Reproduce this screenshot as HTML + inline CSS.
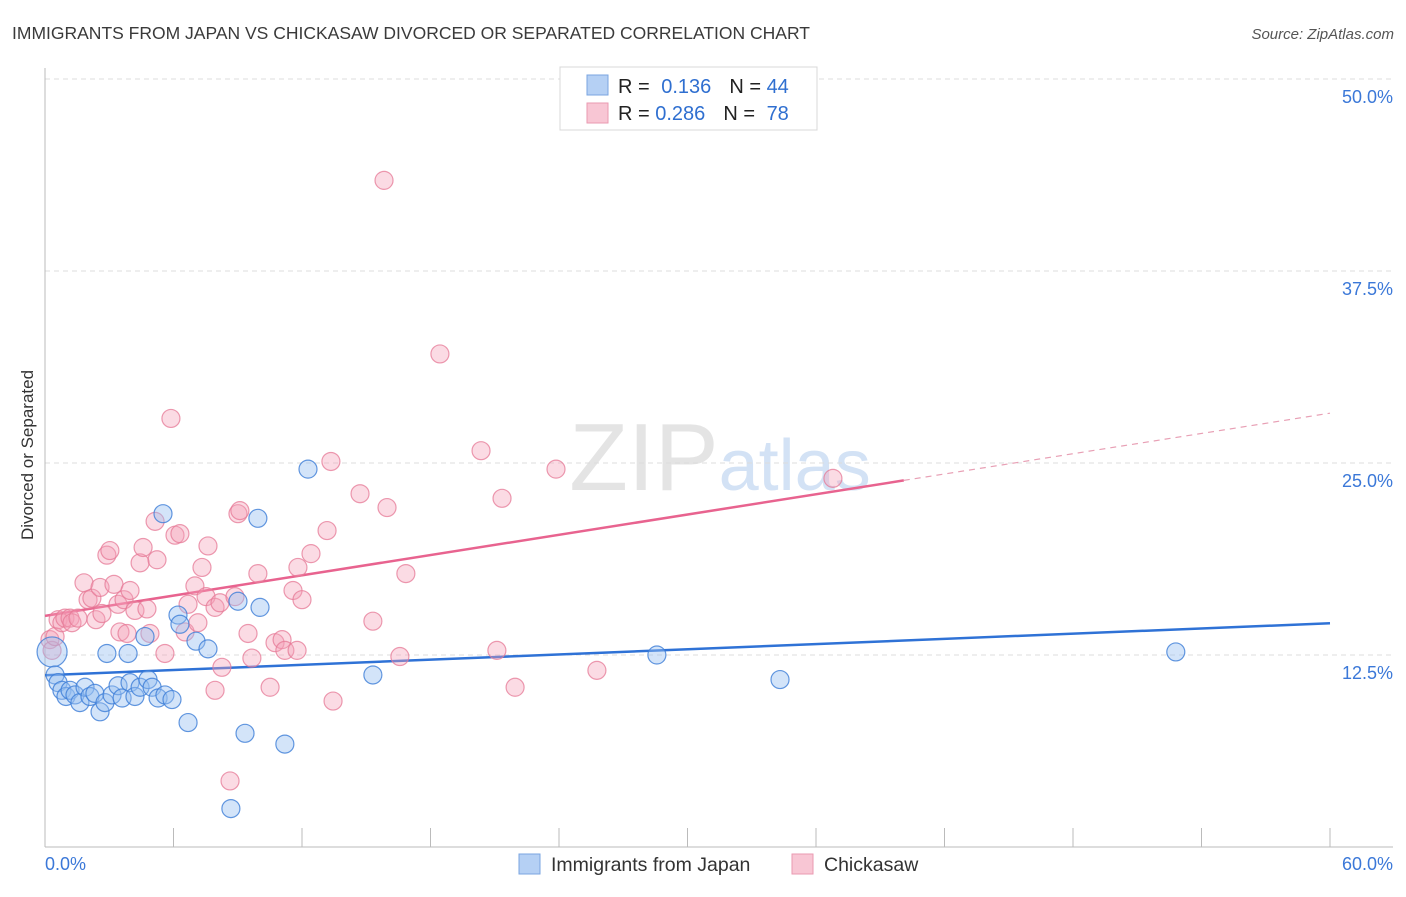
<!DOCTYPE html>
<html><head><meta charset="utf-8"><style>
body{margin:0;background:#fff;font-family:"Liberation Sans",sans-serif;}
svg text{font-family:"Liberation Sans",sans-serif;}
</style></head><body>
<svg id="chart" width="1406" height="892" xmlns="http://www.w3.org/2000/svg">
<text x="12" y="39" font-size="17.5" fill="#3a3a3a">IMMIGRANTS FROM JAPAN VS CHICKASAW DIVORCED OR SEPARATED CORRELATION CHART</text>
<text x="1394" y="39" font-size="15" fill="#555" text-anchor="end" font-style="italic">Source: ZipAtlas.com</text>
<text x="720" y="490" font-size="96" text-anchor="middle" fill="#e4e4e4" font-family="Liberation Serif"><tspan>ZIP</tspan><tspan fill="#d3e2f5" font-family="Liberation Sans" font-size="72">atlas</tspan></text>
<text transform="translate(33,455) rotate(-90)" font-size="17" fill="#333" text-anchor="middle">Divorced or Separated</text>
<g id="grid"></g><g id="axes"></g><g id="trends"></g><g id="points"></g>
<g>
<rect x="560" y="67" width="257" height="63" fill="#fff" stroke="#d8d8d8"/>
<rect x="587" y="75" width="21" height="20" fill="#b5d0f4" stroke="#7aa5e0"/>
<rect x="587" y="103" width="21" height="20" fill="#f8c6d4" stroke="#ea9ab1"/>
<text x="618" y="93" font-size="20" fill="#222">R = <tspan fill="#2f6fd0" dx="6">0.136</tspan><tspan dx="18" fill="#222">N = </tspan><tspan fill="#2f6fd0">44</tspan></text>
<text x="618" y="120" font-size="20" fill="#222">R = <tspan fill="#2f6fd0">0.286</tspan><tspan dx="18" fill="#222">N = </tspan><tspan fill="#2f6fd0" dx="6">78</tspan></text>
</g>
<g>
<rect x="519" y="854" width="21" height="20" fill="#b5d0f4" stroke="#7aa5e0"/>
<text x="551" y="871" font-size="19.5" fill="#333">Immigrants from Japan</text>
<rect x="792" y="854" width="21" height="20" fill="#f8c6d4" stroke="#ea9ab1"/>
<text x="824" y="871" font-size="19.5" fill="#333">Chickasaw</text>
</g>
</svg>
<script>
const blueX=[0.33,0.47,0.61,0.79,0.98,1.17,1.4,1.63,1.87,2.1,2.33,2.57,2.8,2.89,3.13,3.41,3.6,3.88,3.97,4.2,4.44,4.67,4.81,5.0,5.28,5.51,5.6,5.93,6.21,6.3,6.68,7.05,7.61,8.68,9.01,9.34,9.94,10.04,11.2,12.28,15.31,28.57,34.32,52.8];
const blueY=[12.7,11.2,10.7,10.2,9.8,10.2,9.9,9.4,10.4,9.8,10.0,8.8,9.4,12.6,9.9,10.5,9.7,12.6,10.7,9.8,10.4,13.7,10.9,10.4,9.7,21.7,9.9,9.6,15.1,14.5,8.1,13.4,12.9,2.5,16.0,7.4,21.4,15.6,6.7,24.6,11.2,12.5,10.9,12.7];
const pinkX=[0.23,0.33,0.47,0.61,0.79,0.93,1.17,1.26,1.54,1.82,2.01,2.19,2.38,2.57,2.66,2.89,3.03,3.22,3.41,3.5,3.69,3.83,3.97,4.2,4.44,4.58,4.76,4.9,5.14,5.23,5.6,5.88,6.07,6.3,6.54,6.68,7.0,7.14,7.33,7.52,7.61,7.94,8.17,7.94,8.26,8.64,8.87,9.01,9.1,9.48,9.66,9.94,10.51,10.74,11.07,11.2,11.58,11.77,11.81,12.0,12.42,13.17,13.35,13.45,14.71,15.31,15.83,15.97,16.57,16.85,18.44,20.36,21.1,21.34,21.95,23.86,25.77,36.79];
const pinkY=[13.5,12.8,13.7,14.8,14.6,14.9,14.9,14.6,14.9,17.2,16.1,16.2,14.8,16.9,15.2,19.0,19.3,17.1,15.8,14.0,16.1,13.9,16.7,15.4,18.5,19.5,15.5,13.9,21.2,18.7,12.6,27.9,20.3,20.4,14.0,15.8,17.0,14.6,18.2,16.3,19.6,15.6,15.9,10.2,11.7,4.3,16.3,21.7,21.9,13.9,12.3,17.8,10.4,13.3,13.5,12.8,16.7,12.8,18.2,16.1,19.1,20.6,25.1,9.5,23.0,14.7,43.4,22.1,12.4,17.8,32.1,25.8,12.8,22.7,10.4,24.6,11.5,24.0];
const yTicks=[12.5,25,37.5,50];
const yTickLabels=["12.5%","25.0%","37.5%","50.0%"];
const xTicks=[0,6,12,18,24,30,36,42,48,54,60];
const xTickLabels=["0.0%","60.0%"];
const pinkSolidEnd=40.1;
const NS="http://www.w3.org/2000/svg";
const sx=v=>45+v/60*1285;
const sy=v=>847-v/12.5*192;
function mk(tag,attrs,parent){const e=document.createElementNS(NS,tag);for(const k in attrs)e.setAttribute(k,attrs[k]);parent.appendChild(e);return e;}
const grid=document.getElementById('grid'),axes=document.getElementById('axes'),trends=document.getElementById('trends'),pts=document.getElementById('points');
yTicks.forEach((t,i)=>{
 const l=mk('line',{x1:45,x2:1393,y1:sy(t),y2:sy(t),stroke:'#dcdcdc','stroke-dasharray':'5,4'},grid);
 
 
 const tx=mk('text',{x:1393,y:sy(t)+24,'font-size':18,fill:'#3b78d8','text-anchor':'end'},grid);
 tx.textContent=yTickLabels[i];
 
 
});
const ax=mk('line',{x1:45,x2:1393,y1:847,y2:847,stroke:'#bbb'},axes);


const ay=mk('line',{x1:45,x2:45,y1:68,y2:847,stroke:'#bbb'},axes);


xTicks.forEach(t=>{
 const l=mk('line',{x1:sx(t),x2:sx(t),y1:828,y2:847,stroke:'#bbb'},axes);
 
 
});
const xl0=mk('text',{x:45,y:870,'font-size':18,fill:'#3b78d8'},axes);xl0.textContent=xTickLabels[0];


const xl1=mk('text',{x:1393,y:870,'font-size':18,fill:'#3b78d8','text-anchor':'end'},axes);xl1.textContent=xTickLabels[1];


function fit(X,Y){const n=X.length;let mx=0,my=0;X.forEach((v,i)=>{mx+=v;my+=Y[i];});mx/=n;my/=n;let sxy=0,sxx=0;X.forEach((v,i)=>{sxy+=(v-mx)*(Y[i]-my);sxx+=(v-mx)*(v-mx);});const b=sxy/sxx;return [my-b*mx,b];}
const [ba,bb]=fit(blueX,blueY);
const bl=mk('line',{x1:sx(0),y1:sy(ba),x2:sx(60),y2:sy(ba+bb*60),stroke:'#2f72d6','stroke-width':2.5},trends);


const [pa,pb]=fit(pinkX,pinkY);
const pl=mk('line',{x1:sx(0),y1:sy(pa),x2:sx(pinkSolidEnd),y2:sy(pa+pb*pinkSolidEnd),stroke:'#e8638f','stroke-width':2.5},trends);


const pd=mk('line',{x1:sx(pinkSolidEnd),y1:sy(pa+pb*pinkSolidEnd),x2:sx(60),y2:sy(pa+pb*60),stroke:'#e8a0b5','stroke-width':1.2,'stroke-dasharray':'6,5'},trends);


pinkX.forEach((v,i)=>{
 const c=mk('circle',{cx:sx(v),cy:sy(pinkY[i]),r:9,fill:'rgba(244,160,185,0.38)',stroke:'rgba(230,120,150,0.75)','stroke-width':1.2},pts);
 
 
});
blueX.forEach((v,i)=>{
 const c=mk('circle',{cx:sx(v),cy:sy(blueY[i]),r:i===0?15:9,fill:'rgba(150,190,240,0.42)',stroke:'rgba(60,125,215,0.8)','stroke-width':1.2},pts);
 
 
});
</script>
</body></html>
